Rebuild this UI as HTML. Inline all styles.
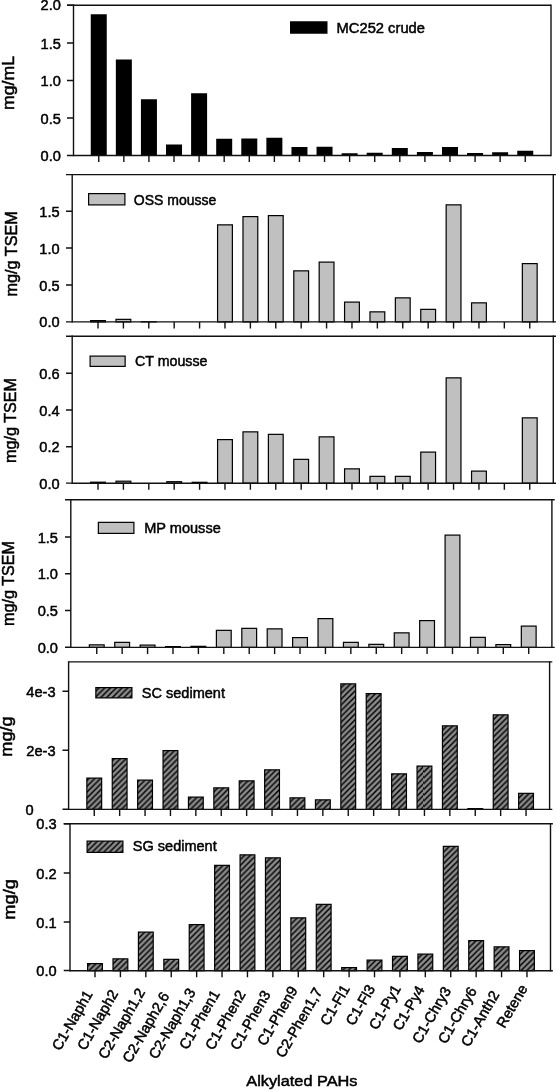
<!DOCTYPE html>
<html><head><meta charset="utf-8"><title>Alkylated PAHs</title>
<style>html,body{margin:0;padding:0;background:#fff;overflow:hidden;width:556px;height:1091px;}svg{display:block;}text{font-family:"Liberation Sans",sans-serif;fill:#000;stroke:#000;stroke-width:0.5px;}svg{filter:grayscale(1);}</style></head><body>
<svg width="556" height="1091" viewBox="0 0 556 1091">
<defs><pattern id="h5" patternUnits="userSpaceOnUse" x="3.5" y="0" width="5.76" height="5.76"><rect width="5.76" height="5.76" fill="#8a8a8a"/><path d="M-1,6.76 L6.76,-1 M-1,1 L1,-1 M4.76,6.76 L6.76,4.76" stroke="#000" stroke-width="1.5"/></pattern><pattern id="h6" patternUnits="userSpaceOnUse" x="5.5" y="0" width="5.76" height="5.76"><rect width="5.76" height="5.76" fill="#8a8a8a"/><path d="M-1,6.76 L6.76,-1 M-1,1 L1,-1 M4.76,6.76 L6.76,4.76" stroke="#000" stroke-width="1.5"/></pattern></defs>
<rect width="556" height="1091" fill="#fff"/>
<rect x="90.75" y="14.25" width="16" height="141.25" fill="#000"/>
<rect x="115.84" y="59.5" width="16" height="96" fill="#000"/>
<rect x="140.93" y="99.25" width="16" height="56.25" fill="#000"/>
<rect x="166.01" y="144.5" width="16" height="11" fill="#000"/>
<rect x="191.1" y="93.25" width="16" height="62.25" fill="#000"/>
<rect x="216.19" y="138.75" width="16" height="16.75" fill="#000"/>
<rect x="241.28" y="138.5" width="16" height="17" fill="#000"/>
<rect x="266.37" y="137.75" width="16" height="17.75" fill="#000"/>
<rect x="291.45" y="147" width="16" height="8.5" fill="#000"/>
<rect x="316.54" y="146.75" width="16" height="8.75" fill="#000"/>
<rect x="341.63" y="153.25" width="16" height="2.25" fill="#000"/>
<rect x="366.72" y="152.75" width="16" height="2.75" fill="#000"/>
<rect x="391.81" y="148" width="16" height="7.5" fill="#000"/>
<rect x="416.89" y="152" width="16" height="3.5" fill="#000"/>
<rect x="441.98" y="147" width="16" height="8.5" fill="#000"/>
<rect x="467.07" y="153" width="16" height="2.5" fill="#000"/>
<rect x="492.16" y="152.25" width="16" height="3.25" fill="#000"/>
<rect x="517.25" y="150.75" width="16" height="4.75" fill="#000"/>
<path d="M67,5.3 H551 M73.5,155.5 H551" fill="none" stroke="#111" stroke-width="1.4"/>
<path d="M551,5.3 V155.5 M73.5,5.3 V155.5" fill="none" stroke="#111" stroke-width="1.4" stroke-linecap="square"/>
<path d="M67,5.3 H73.5 M67,43 H73.5 M67,80.5 H73.5 M67,118 H73.5 M67,155.5 H73.5 " stroke="#111" stroke-width="1.4"/>
<text transform="translate(60.9,9.7) scale(0.95,1)" font-size="15.4" text-anchor="end">2.0</text>
<text transform="translate(60.9,48.5) scale(0.95,1)" font-size="15.4" text-anchor="end">1.5</text>
<text transform="translate(60.9,86) scale(0.95,1)" font-size="15.4" text-anchor="end">1.0</text>
<text transform="translate(60.9,123.5) scale(0.95,1)" font-size="15.4" text-anchor="end">0.5</text>
<text transform="translate(60.9,161) scale(0.95,1)" font-size="15.4" text-anchor="end">0.0</text>
<path d="M98.75,155.5 V162 M123.84,155.5 V162 M148.93,155.5 V162 M174.01,155.5 V162 M199.1,155.5 V162 M224.19,155.5 V162 M249.28,155.5 V162 M274.37,155.5 V162 M299.45,155.5 V162 M324.54,155.5 V162 M349.63,155.5 V162 M374.72,155.5 V162 M399.81,155.5 V162 M424.89,155.5 V162 M449.98,155.5 V162 M475.07,155.5 V162 M500.16,155.5 V162 M525.25,155.5 V162 " stroke="#111" stroke-width="1.4"/>
<rect x="290" y="21.25" width="37.5" height="12.5" fill="#000"/>
<text x="336.5" y="33.3" font-size="15" textLength="88.5" lengthAdjust="spacingAndGlyphs">MC252 crude</text>
<text transform="translate(14.3,83) rotate(-90)" x="0" y="0" font-size="17" text-anchor="middle" textLength="54.2" lengthAdjust="spacingAndGlyphs">mg/mL</text>
<rect x="90.6" y="320.6" width="14.8" height="1.3" fill="#c0c0c0" stroke="#000" stroke-width="1.2"/>
<rect x="116" y="319.35" width="14.8" height="2.55" fill="#c0c0c0" stroke="#000" stroke-width="1.2"/>
<rect x="141.39" y="321.8" width="14.8" height="0.1" fill="#c0c0c0" stroke="#000" stroke-width="1.2"/>
<rect x="217.58" y="224.85" width="14.8" height="97.05" fill="#c0c0c0" stroke="#000" stroke-width="1.2"/>
<rect x="242.98" y="216.6" width="14.8" height="105.3" fill="#c0c0c0" stroke="#000" stroke-width="1.2"/>
<rect x="268.38" y="215.6" width="14.8" height="106.3" fill="#c0c0c0" stroke="#000" stroke-width="1.2"/>
<rect x="293.78" y="270.85" width="14.8" height="51.05" fill="#c0c0c0" stroke="#000" stroke-width="1.2"/>
<rect x="319.17" y="262.1" width="14.8" height="59.8" fill="#c0c0c0" stroke="#000" stroke-width="1.2"/>
<rect x="344.57" y="302.1" width="14.8" height="19.8" fill="#c0c0c0" stroke="#000" stroke-width="1.2"/>
<rect x="369.97" y="311.85" width="14.8" height="10.05" fill="#c0c0c0" stroke="#000" stroke-width="1.2"/>
<rect x="395.36" y="297.85" width="14.8" height="24.05" fill="#c0c0c0" stroke="#000" stroke-width="1.2"/>
<rect x="420.76" y="309.35" width="14.8" height="12.55" fill="#c0c0c0" stroke="#000" stroke-width="1.2"/>
<rect x="446.16" y="204.85" width="14.8" height="117.05" fill="#c0c0c0" stroke="#000" stroke-width="1.2"/>
<rect x="471.56" y="302.85" width="14.8" height="19.05" fill="#c0c0c0" stroke="#000" stroke-width="1.2"/>
<rect x="522.35" y="263.6" width="14.8" height="58.3" fill="#c0c0c0" stroke="#000" stroke-width="1.2"/>
<path d="M66,174.6 H556.5 M72.2,321.9 H556.5" fill="none" stroke="#111" stroke-width="1.4"/>
<path d="M553.3,174.6 V321.9 M72.2,174.6 V321.9" fill="none" stroke="#111" stroke-width="1.4" stroke-linecap="square"/>
<path d="M66,211.25 H72.2 M66,248 H72.2 M66,285 H72.2 M66,321.9 H72.2 " stroke="#111" stroke-width="1.4"/>
<text transform="translate(59.6,216.75) scale(0.95,1)" font-size="15.4" text-anchor="end">1.5</text>
<text transform="translate(59.6,253.5) scale(0.95,1)" font-size="15.4" text-anchor="end">1.0</text>
<text transform="translate(59.6,290.5) scale(0.95,1)" font-size="15.4" text-anchor="end">0.5</text>
<text transform="translate(59.6,327.4) scale(0.95,1)" font-size="15.4" text-anchor="end">0.0</text>
<path d="M98,321.9 V328.4 M123.4,321.9 V328.4 M148.79,321.9 V328.4 M174.19,321.9 V328.4 M199.59,321.9 V328.4 M224.98,321.9 V328.4 M250.38,321.9 V328.4 M275.78,321.9 V328.4 M301.18,321.9 V328.4 M326.57,321.9 V328.4 M351.97,321.9 V328.4 M377.37,321.9 V328.4 M402.76,321.9 V328.4 M428.16,321.9 V328.4 M453.56,321.9 V328.4 M478.95,321.9 V328.4 M504.35,321.9 V328.4 M529.75,321.9 V328.4 " stroke="#111" stroke-width="1.4"/>
<rect x="88.6" y="193.6" width="36.3" height="11.3" fill="#c0c0c0" stroke="#000" stroke-width="1.2"/>
<text x="133.75" y="205" font-size="15" textLength="82.5" lengthAdjust="spacingAndGlyphs">OSS mousse</text>
<text transform="translate(17,253.85) rotate(-90)" x="0" y="0" font-size="17" text-anchor="middle" textLength="85.4" lengthAdjust="spacingAndGlyphs">mg/g TSEM</text>
<rect x="90.6" y="482.2" width="14.8" height="1" fill="#c0c0c0" stroke="#000" stroke-width="1.2"/>
<rect x="116" y="481.2" width="14.8" height="2" fill="#c0c0c0" stroke="#000" stroke-width="1.2"/>
<rect x="166.79" y="481.7" width="14.8" height="1.5" fill="#c0c0c0" stroke="#000" stroke-width="1.2"/>
<rect x="192.19" y="482.3" width="14.8" height="0.9" fill="#c0c0c0" stroke="#000" stroke-width="1.2"/>
<rect x="217.58" y="439.6" width="14.8" height="43.6" fill="#c0c0c0" stroke="#000" stroke-width="1.2"/>
<rect x="242.98" y="431.85" width="14.8" height="51.35" fill="#c0c0c0" stroke="#000" stroke-width="1.2"/>
<rect x="268.38" y="434.35" width="14.8" height="48.85" fill="#c0c0c0" stroke="#000" stroke-width="1.2"/>
<rect x="293.78" y="459.35" width="14.8" height="23.85" fill="#c0c0c0" stroke="#000" stroke-width="1.2"/>
<rect x="319.17" y="436.85" width="14.8" height="46.35" fill="#c0c0c0" stroke="#000" stroke-width="1.2"/>
<rect x="344.57" y="468.85" width="14.8" height="14.35" fill="#c0c0c0" stroke="#000" stroke-width="1.2"/>
<rect x="369.97" y="476.35" width="14.8" height="6.85" fill="#c0c0c0" stroke="#000" stroke-width="1.2"/>
<rect x="395.36" y="476.35" width="14.8" height="6.85" fill="#c0c0c0" stroke="#000" stroke-width="1.2"/>
<rect x="420.76" y="452.1" width="14.8" height="31.1" fill="#c0c0c0" stroke="#000" stroke-width="1.2"/>
<rect x="446.16" y="377.85" width="14.8" height="105.35" fill="#c0c0c0" stroke="#000" stroke-width="1.2"/>
<rect x="471.56" y="471.1" width="14.8" height="12.1" fill="#c0c0c0" stroke="#000" stroke-width="1.2"/>
<rect x="522.35" y="417.85" width="14.8" height="65.35" fill="#c0c0c0" stroke="#000" stroke-width="1.2"/>
<path d="M66,336.2 H556.5 M72.2,483.2 H556.5" fill="none" stroke="#111" stroke-width="1.4"/>
<path d="M553.3,336.2 V483.2 M72.2,336.2 V483.2" fill="none" stroke="#111" stroke-width="1.4" stroke-linecap="square"/>
<path d="M66,373.25 H72.2 M66,410 H72.2 M66,446.75 H72.2 M66,483.1 H72.2 " stroke="#111" stroke-width="1.4"/>
<text transform="translate(59.6,378.75) scale(0.95,1)" font-size="15.4" text-anchor="end">0.6</text>
<text transform="translate(59.6,415.5) scale(0.95,1)" font-size="15.4" text-anchor="end">0.4</text>
<text transform="translate(59.6,452.25) scale(0.95,1)" font-size="15.4" text-anchor="end">0.2</text>
<text transform="translate(59.6,488.6) scale(0.95,1)" font-size="15.4" text-anchor="end">0.0</text>
<path d="M98,483.2 V489.7 M123.4,483.2 V489.7 M148.79,483.2 V489.7 M174.19,483.2 V489.7 M199.59,483.2 V489.7 M224.98,483.2 V489.7 M250.38,483.2 V489.7 M275.78,483.2 V489.7 M301.18,483.2 V489.7 M326.57,483.2 V489.7 M351.97,483.2 V489.7 M377.37,483.2 V489.7 M402.76,483.2 V489.7 M428.16,483.2 V489.7 M453.56,483.2 V489.7 M478.95,483.2 V489.7 M504.35,483.2 V489.7 M529.75,483.2 V489.7 " stroke="#111" stroke-width="1.4"/>
<rect x="90.1" y="356.1" width="35.05" height="10.3" fill="#c0c0c0" stroke="#000" stroke-width="1.2"/>
<text x="135" y="366.25" font-size="15" textLength="72.5" lengthAdjust="spacingAndGlyphs">CT mousse</text>
<text transform="translate(16.1,420.45) rotate(-90)" x="0" y="0" font-size="17" text-anchor="middle" textLength="85" lengthAdjust="spacingAndGlyphs">mg/g TSEM</text>
<rect x="89.35" y="644.85" width="14.8" height="2.55" fill="#c0c0c0" stroke="#000" stroke-width="1.2"/>
<rect x="114.76" y="642.35" width="14.8" height="5.05" fill="#c0c0c0" stroke="#000" stroke-width="1.2"/>
<rect x="140.17" y="645.1" width="14.8" height="2.3" fill="#c0c0c0" stroke="#000" stroke-width="1.2"/>
<rect x="165.58" y="646.6" width="14.8" height="0.8" fill="#c0c0c0" stroke="#000" stroke-width="1.2"/>
<rect x="190.99" y="646.35" width="14.8" height="1.05" fill="#c0c0c0" stroke="#000" stroke-width="1.2"/>
<rect x="216.4" y="630.35" width="14.8" height="17.05" fill="#c0c0c0" stroke="#000" stroke-width="1.2"/>
<rect x="241.81" y="628.35" width="14.8" height="19.05" fill="#c0c0c0" stroke="#000" stroke-width="1.2"/>
<rect x="267.22" y="628.85" width="14.8" height="18.55" fill="#c0c0c0" stroke="#000" stroke-width="1.2"/>
<rect x="292.63" y="637.6" width="14.8" height="9.8" fill="#c0c0c0" stroke="#000" stroke-width="1.2"/>
<rect x="318.04" y="618.6" width="14.8" height="28.8" fill="#c0c0c0" stroke="#000" stroke-width="1.2"/>
<rect x="343.45" y="642.35" width="14.8" height="5.05" fill="#c0c0c0" stroke="#000" stroke-width="1.2"/>
<rect x="368.86" y="644.35" width="14.8" height="3.05" fill="#c0c0c0" stroke="#000" stroke-width="1.2"/>
<rect x="394.27" y="632.85" width="14.8" height="14.55" fill="#c0c0c0" stroke="#000" stroke-width="1.2"/>
<rect x="419.68" y="620.6" width="14.8" height="26.8" fill="#c0c0c0" stroke="#000" stroke-width="1.2"/>
<rect x="445.09" y="535.1" width="14.8" height="112.3" fill="#c0c0c0" stroke="#000" stroke-width="1.2"/>
<rect x="470.5" y="637.35" width="14.8" height="10.05" fill="#c0c0c0" stroke="#000" stroke-width="1.2"/>
<rect x="495.91" y="644.6" width="14.8" height="2.8" fill="#c0c0c0" stroke="#000" stroke-width="1.2"/>
<rect x="521.32" y="626.1" width="14.8" height="21.3" fill="#c0c0c0" stroke="#000" stroke-width="1.2"/>
<path d="M65,499.8 H554.7 M70.8,647.4 H554.7" fill="none" stroke="#111" stroke-width="1.4"/>
<path d="M551.9,499.8 V647.4 M70.8,499.8 V647.4" fill="none" stroke="#111" stroke-width="1.4" stroke-linecap="square"/>
<path d="M65,537 H70.8 M65,573.75 H70.8 M65,610.5 H70.8 M65,647.3 H70.8 " stroke="#111" stroke-width="1.4"/>
<text transform="translate(58,542.5) scale(0.95,1)" font-size="15.4" text-anchor="end">1.5</text>
<text transform="translate(58,579.25) scale(0.95,1)" font-size="15.4" text-anchor="end">1.0</text>
<text transform="translate(58,616) scale(0.95,1)" font-size="15.4" text-anchor="end">0.5</text>
<text transform="translate(58,652.8) scale(0.95,1)" font-size="15.4" text-anchor="end">0.0</text>
<path d="M96.75,647.4 V653.9 M122.16,647.4 V653.9 M147.57,647.4 V653.9 M172.98,647.4 V653.9 M198.39,647.4 V653.9 M223.8,647.4 V653.9 M249.21,647.4 V653.9 M274.62,647.4 V653.9 M300.03,647.4 V653.9 M325.44,647.4 V653.9 M350.85,647.4 V653.9 M376.26,647.4 V653.9 M401.67,647.4 V653.9 M427.08,647.4 V653.9 M452.49,647.4 V653.9 M477.9,647.4 V653.9 M503.31,647.4 V653.9 M528.72,647.4 V653.9 " stroke="#111" stroke-width="1.4"/>
<rect x="98.35" y="522.35" width="35.55" height="11.05" fill="#c0c0c0" stroke="#000" stroke-width="1.2"/>
<text x="144.25" y="533" font-size="15" textLength="76.5" lengthAdjust="spacingAndGlyphs">MP mousse</text>
<text transform="translate(14.2,583.45) rotate(-90)" x="0" y="0" font-size="17" text-anchor="middle" textLength="85" lengthAdjust="spacingAndGlyphs">mg/g TSEM</text>
<rect x="86.85" y="778.1" width="14.8" height="31.3" fill="url(#h5)" stroke="#000" stroke-width="1.2"/>
<rect x="112.25" y="758.6" width="14.8" height="50.8" fill="url(#h5)" stroke="#000" stroke-width="1.2"/>
<rect x="137.65" y="780.1" width="14.8" height="29.3" fill="url(#h5)" stroke="#000" stroke-width="1.2"/>
<rect x="163.05" y="750.6" width="14.8" height="58.8" fill="url(#h5)" stroke="#000" stroke-width="1.2"/>
<rect x="188.45" y="797.1" width="14.8" height="12.3" fill="url(#h5)" stroke="#000" stroke-width="1.2"/>
<rect x="213.85" y="787.85" width="14.8" height="21.55" fill="url(#h5)" stroke="#000" stroke-width="1.2"/>
<rect x="239.25" y="780.85" width="14.8" height="28.55" fill="url(#h5)" stroke="#000" stroke-width="1.2"/>
<rect x="264.65" y="769.85" width="14.8" height="39.55" fill="url(#h5)" stroke="#000" stroke-width="1.2"/>
<rect x="290.05" y="797.85" width="14.8" height="11.55" fill="url(#h5)" stroke="#000" stroke-width="1.2"/>
<rect x="315.45" y="799.85" width="14.8" height="9.55" fill="url(#h5)" stroke="#000" stroke-width="1.2"/>
<rect x="340.85" y="683.85" width="14.8" height="125.55" fill="url(#h5)" stroke="#000" stroke-width="1.2"/>
<rect x="366.25" y="693.6" width="14.8" height="115.8" fill="url(#h5)" stroke="#000" stroke-width="1.2"/>
<rect x="391.65" y="773.85" width="14.8" height="35.55" fill="url(#h5)" stroke="#000" stroke-width="1.2"/>
<rect x="417.05" y="766.1" width="14.8" height="43.3" fill="url(#h5)" stroke="#000" stroke-width="1.2"/>
<rect x="442.45" y="725.85" width="14.8" height="83.55" fill="url(#h5)" stroke="#000" stroke-width="1.2"/>
<rect x="467.85" y="808.6" width="14.8" height="0.8" fill="url(#h5)" stroke="#000" stroke-width="1.2"/>
<rect x="493.25" y="714.85" width="14.8" height="94.55" fill="url(#h5)" stroke="#000" stroke-width="1.2"/>
<rect x="518.65" y="793.35" width="14.8" height="16.05" fill="url(#h5)" stroke="#000" stroke-width="1.2"/>
<path d="M68.6,661.9 H552.3 M68.6,809.4 H552.3" fill="none" stroke="#111" stroke-width="1.4"/>
<path d="M549.6,661.9 V809.4 M68.6,661.9 V809.4" fill="none" stroke="#111" stroke-width="1.4" stroke-linecap="square"/>
<path d="M62.5,691.25 H68.6 M62.5,750.25 H68.6 M62.5,809.3 H68.6 " stroke="#111" stroke-width="1.4"/>
<text transform="translate(55.6,696.75) scale(0.95,1)" font-size="15.4" text-anchor="end">4e-3</text>
<text transform="translate(55.6,755.75) scale(0.95,1)" font-size="15.4" text-anchor="end">2e-3</text>
<text transform="translate(33.6,814.8) scale(0.95,1)" font-size="15.4" text-anchor="end">0</text>
<path d="M94.25,809.4 V815.9 M119.65,809.4 V815.9 M145.05,809.4 V815.9 M170.45,809.4 V815.9 M195.85,809.4 V815.9 M221.25,809.4 V815.9 M246.65,809.4 V815.9 M272.05,809.4 V815.9 M297.45,809.4 V815.9 M322.85,809.4 V815.9 M348.25,809.4 V815.9 M373.65,809.4 V815.9 M399.05,809.4 V815.9 M424.45,809.4 V815.9 M449.85,809.4 V815.9 M475.25,809.4 V815.9 M500.65,809.4 V815.9 M526.05,809.4 V815.9 " stroke="#111" stroke-width="1.4"/>
<rect x="95.85" y="687.6" width="36.05" height="10.3" fill="url(#h5)" stroke="#000" stroke-width="1.2"/>
<text x="141.75" y="697.8" font-size="15" textLength="83.25" lengthAdjust="spacingAndGlyphs">SC sediment</text>
<text transform="translate(12.2,736.55) rotate(-90)" x="0" y="0" font-size="17" text-anchor="middle" textLength="40.2" lengthAdjust="spacingAndGlyphs">mg/g</text>
<rect x="87.6" y="963.6" width="14.8" height="7.1" fill="url(#h6)" stroke="#000" stroke-width="1.2"/>
<rect x="113.01" y="958.85" width="14.8" height="11.85" fill="url(#h6)" stroke="#000" stroke-width="1.2"/>
<rect x="138.42" y="932.1" width="14.8" height="38.6" fill="url(#h6)" stroke="#000" stroke-width="1.2"/>
<rect x="163.83" y="959.35" width="14.8" height="11.35" fill="url(#h6)" stroke="#000" stroke-width="1.2"/>
<rect x="189.24" y="924.6" width="14.8" height="46.1" fill="url(#h6)" stroke="#000" stroke-width="1.2"/>
<rect x="214.65" y="865.35" width="14.8" height="105.35" fill="url(#h6)" stroke="#000" stroke-width="1.2"/>
<rect x="240.06" y="854.85" width="14.8" height="115.85" fill="url(#h6)" stroke="#000" stroke-width="1.2"/>
<rect x="265.47" y="857.85" width="14.8" height="112.85" fill="url(#h6)" stroke="#000" stroke-width="1.2"/>
<rect x="290.88" y="917.85" width="14.8" height="52.85" fill="url(#h6)" stroke="#000" stroke-width="1.2"/>
<rect x="316.29" y="904.35" width="14.8" height="66.35" fill="url(#h6)" stroke="#000" stroke-width="1.2"/>
<rect x="341.7" y="967.6" width="14.8" height="3.1" fill="url(#h6)" stroke="#000" stroke-width="1.2"/>
<rect x="367.11" y="960.1" width="14.8" height="10.6" fill="url(#h6)" stroke="#000" stroke-width="1.2"/>
<rect x="392.52" y="956.35" width="14.8" height="14.35" fill="url(#h6)" stroke="#000" stroke-width="1.2"/>
<rect x="417.93" y="954.1" width="14.8" height="16.6" fill="url(#h6)" stroke="#000" stroke-width="1.2"/>
<rect x="443.34" y="846.35" width="14.8" height="124.35" fill="url(#h6)" stroke="#000" stroke-width="1.2"/>
<rect x="468.75" y="940.6" width="14.8" height="30.1" fill="url(#h6)" stroke="#000" stroke-width="1.2"/>
<rect x="494.16" y="946.85" width="14.8" height="23.85" fill="url(#h6)" stroke="#000" stroke-width="1.2"/>
<rect x="519.57" y="950.6" width="14.8" height="20.1" fill="url(#h6)" stroke="#000" stroke-width="1.2"/>
<path d="M63.75,823.7 H552.9 M70,970.7 H552.9" fill="none" stroke="#111" stroke-width="1.4"/>
<path d="M550.5,823.7 V970.7 M70,823.7 V970.7" fill="none" stroke="#111" stroke-width="1.4" stroke-linecap="square"/>
<path d="M63.75,823.8 H70 M63.75,873 H70 M63.75,922 H70 M63.75,970.5 H70 " stroke="#111" stroke-width="1.4"/>
<text transform="translate(56.6,829.3) scale(0.95,1)" font-size="15.4" text-anchor="end">0.3</text>
<text transform="translate(56.6,878.5) scale(0.95,1)" font-size="15.4" text-anchor="end">0.2</text>
<text transform="translate(56.6,927.5) scale(0.95,1)" font-size="15.4" text-anchor="end">0.1</text>
<text transform="translate(56.6,976) scale(0.95,1)" font-size="15.4" text-anchor="end">0.0</text>
<path d="M95,970.7 V977.2 M120.41,970.7 V977.2 M145.82,970.7 V977.2 M171.23,970.7 V977.2 M196.64,970.7 V977.2 M222.05,970.7 V977.2 M247.46,970.7 V977.2 M272.87,970.7 V977.2 M298.28,970.7 V977.2 M323.69,970.7 V977.2 M349.1,970.7 V977.2 M374.51,970.7 V977.2 M399.92,970.7 V977.2 M425.33,970.7 V977.2 M450.74,970.7 V977.2 M476.15,970.7 V977.2 M501.56,970.7 V977.2 M526.97,970.7 V977.2 " stroke="#111" stroke-width="1.4"/>
<rect x="87.1" y="841.1" width="35.8" height="11.3" fill="url(#h6)" stroke="#000" stroke-width="1.2"/>
<text x="132.75" y="851.3" font-size="15" textLength="84" lengthAdjust="spacingAndGlyphs">SG sediment</text>
<text transform="translate(14.6,899.4) rotate(-90)" x="0" y="0" font-size="17" text-anchor="middle" textLength="40.5" lengthAdjust="spacingAndGlyphs">mg/g</text>
<text transform="translate(93.15,994) rotate(-60)" x="0" y="0" font-size="14.6" text-anchor="end">C1-Naph1</text>
<text transform="translate(118.61,993.55) rotate(-60)" x="0" y="0" font-size="14.6" text-anchor="end">C1-Naph2</text>
<text transform="translate(145.67,991.85) rotate(-60)" x="0" y="0" font-size="14.6" text-anchor="end">C2-Naph1,2</text>
<text transform="translate(169.83,995.6) rotate(-60)" x="0" y="0" font-size="14.6" text-anchor="end">C2-Naph2,6</text>
<text transform="translate(196.04,991.85) rotate(-60)" x="0" y="0" font-size="14.6" text-anchor="end">C2-Naph1,3</text>
<text transform="translate(220.2,993.6) rotate(-60)" x="0" y="0" font-size="14.6" text-anchor="end">C1-Phen1</text>
<text transform="translate(246.06,994) rotate(-60)" x="0" y="0" font-size="14.6" text-anchor="end">C1-Phen2</text>
<text transform="translate(271.02,994.15) rotate(-60)" x="0" y="0" font-size="14.6" text-anchor="end">C1-Phen3</text>
<text transform="translate(298.08,989.95) rotate(-60)" x="0" y="0" font-size="14.6" text-anchor="end">C1-Phen9</text>
<text transform="translate(322.69,991.4) rotate(-60)" x="0" y="0" font-size="14.6" text-anchor="end">C2-Phen1,7</text>
<text transform="translate(350.2,988.55) rotate(-60)" x="0" y="0" font-size="14.6" text-anchor="end">C1-Fl1</text>
<text transform="translate(375.61,988.55) rotate(-60)" x="0" y="0" font-size="14.6" text-anchor="end">C1-Fl3</text>
<text transform="translate(401.42,988.5) rotate(-60)" x="0" y="0" font-size="14.6" text-anchor="end">C1-Py1</text>
<text transform="translate(425.18,989.4) rotate(-60)" x="0" y="0" font-size="14.6" text-anchor="end">C1-Py4</text>
<text transform="translate(451.44,990.45) rotate(-60)" x="0" y="0" font-size="14.6" text-anchor="end">C1-Chry3</text>
<text transform="translate(477.2,990.6) rotate(-60)" x="0" y="0" font-size="14.6" text-anchor="end">C1-Chry6</text>
<text transform="translate(499.76,994.4) rotate(-60)" x="0" y="0" font-size="14.6" text-anchor="end">C1-Anth2</text>
<text transform="translate(528.02,988.15) rotate(-60)" x="0" y="0" font-size="14.6" text-anchor="end">Retene</text>
<text x="246.25" y="1086.3" font-size="15.5" textLength="111.25" lengthAdjust="spacingAndGlyphs">Alkylated PAHs</text>
</svg>
</body></html>
